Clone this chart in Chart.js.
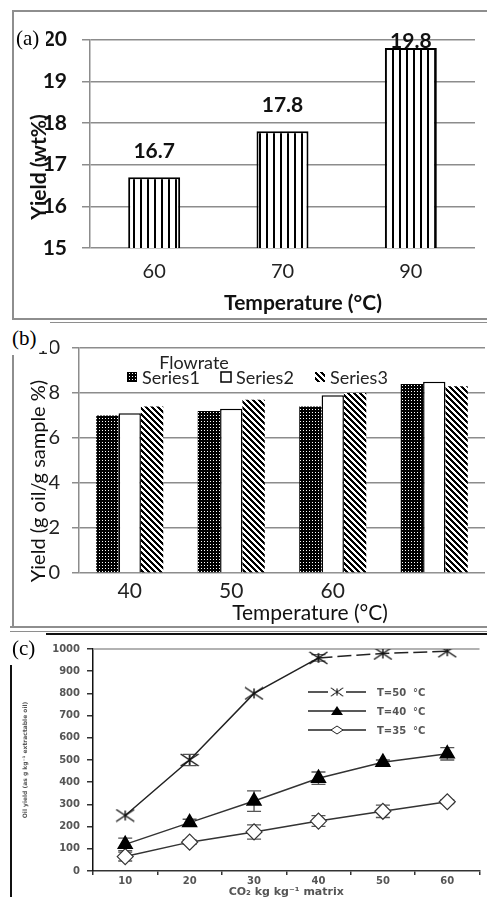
<!DOCTYPE html>
<html lang="en">
<head>
<meta charset="utf-8">
<title>Oil yield vs temperature and CO2</title>
<script src="https://cdn.jsdelivr.net/npm/chart.js@4.4.1/dist/chart.umd.min.js"></script>
<style>
  html, body { margin: 0; padding: 0; background: #fff; }
  #page { position: relative; width: 487px; height: 897px; overflow: hidden; }
  canvas { position: absolute; }
  .ln { position: absolute; background: #8e8e8e; }
  .tag { position: absolute; font-family: "Liberation Serif", serif; font-size: 21px; line-height: 1; background: #fff; padding: 1px 4px 1px 1px; }
  .ttl { position: absolute; font-family: Lato, sans-serif; color: #111; white-space: nowrap; line-height: 1; transform: translate(-50%, -50%); }
  .rot { transform: translate(-50%, -50%) rotate(-90deg); }
</style>
</head>
<body>
<div id="page">
  <canvas id="chartA" width="473" height="306" style="left:14px;top:12px"></canvas>
  <canvas id="chartB" width="473" height="302" style="left:14px;top:324px"></canvas>
  <canvas id="chartC" width="477" height="266" style="left:14px;top:636px"></canvas>

  <!-- panel frames -->
  <div class="ln" style="left:12px;top:10px;width:475px;height:2px"></div>
  <div class="ln" style="left:12px;top:10px;width:2px;height:310px"></div>
  <div class="ln" style="left:12px;top:318px;width:475px;height:2px"></div>
  <div class="ln" style="left:50px;top:322px;width:437px;height:1px"></div>
  <div class="ln" style="left:12px;top:355px;width:2px;height:273px"></div>
  <div class="ln" style="left:10px;top:626px;width:477px;height:2px"></div>
  <div class="ln" style="left:10px;top:631px;width:477px;height:1px"></div>
  <div class="ln" style="left:46px;top:633px;width:441px;height:2px;background:#111"></div>
  <div class="ln" style="left:10px;top:665px;width:2px;height:232px;background:#111"></div>

  <div class="tag" style="left:15px;top:27px;padding-right:7px">(a)</div>
  <div class="tag" style="left:11px;top:326px;padding:2px 13px 2px 1px">(b)</div>
  <div class="tag" style="left:11px;top:637px">(c)</div>

  <div class="ttl rot" style="left:37px;top:167px;font-size:21px;font-weight:bold">Yield (wt%)</div>
  <div class="ttl" style="left:303px;top:301px;font-size:21px;font-weight:bold">Temperature (°C)</div>
  <div class="ttl rot" style="left:37px;top:481px;font-size:20px">Yield (g oil/g sample %)</div>
  <div class="ttl" style="left:310px;top:611px;font-size:21px">Temperature (°C)</div>
</div>
<script>
  // (a) extraction temperature
  const tempA = ['60', '70', '90'];
  const yieldA = [16.7, 17.8, 19.8];

  // (b) flowrate series
  const tempB = ['40', '50', '60', ''];
  const flowNames = ['Series1', 'Series2', 'Series3'];
  const series1 = [7.0, 7.2, 7.4, 8.4];
  const series2 = [7.1, 7.3, 7.9, 8.5];
  const series3 = [7.4, 7.7, 8.0, 8.3];

  // (c) CO2 consumption
  const co2 = ['10', '20', '30', '40', '50', '60'];
  const tempNamesC = ['T=50  °C', 'T=40  °C', 'T=35  °C'];
  const oil50 = [250, 500, 800, 960, 980, 990];
  const oil40 = [120, 218, 315, 418, 490, 528];
  const oil35 = [65, 130, 176, 225, 269, 312];
  const err50 = [0, 25, 0, 15, 0, 0];
  const err40 = [28, 15, 46, 28, 10, 28];
  const err35 = [20, 10, 32, 24, 28, 8];

  function makePattern(w, h, ink) {
    var c = document.createElement('canvas');
    c.width = w; c.height = h;
    var g = c.getContext('2d');
    g.fillStyle = '#fff';
    g.fillRect(0, 0, w, h);
    g.fillStyle = '#000';
    for (var y = 0; y < h; y++) {
      for (var x = 0; x < w; x++) {
        if (ink(x, y)) g.fillRect(x, y, 1, 1);
      }
    }
    return g.createPattern(c, 'repeat');
  }

  var vStripes = makePattern(7, 1, function (x) { return x < 2; });
  var dots = makePattern(3, 3, function (x, y) { return !(x === 1 && y === 1); });
  var diag = makePattern(6, 6, function (x, y) { return ((x - y) % 6 + 6) % 6 < 3; });

  function makeStar() {
    var c = document.createElement('canvas');
    c.width = 20; c.height = 14;
    var g = c.getContext('2d');
    g.strokeStyle = '#111';
    g.lineWidth = 1.4;
    g.beginPath();
    g.moveTo(1, 1); g.lineTo(19, 13);
    g.moveTo(1, 13); g.lineTo(19, 1);
    g.moveTo(10, 2); g.lineTo(10, 12);
    g.stroke();
    return c;
  }
  var starImg = makeStar();

  var gridGray = '#8c8c8c';

  // ---------- (a) ----------
  var valueLabels = {
    id: 'valueLabels',
    afterDatasetsDraw: function (chart) {
      var ctx = chart.ctx, area = chart.chartArea;
      ctx.save();
      ctx.font = 'bold 21px Lato';
      ctx.fillStyle = '#111';
      ctx.textAlign = 'center';
      ctx.textBaseline = 'middle';
      chart.getDatasetMeta(0).data.forEach(function (bar, i) {
        var y = Math.max(bar.y - 26, area.top + 2);
        ctx.fillText(yieldA[i].toFixed(1), bar.x, y);
      });
      ctx.restore();
    }
  };

  new Chart(document.getElementById('chartA'), {
    type: 'bar',
    data: {
      labels: tempA,
      datasets: [{
        data: yieldA,
        backgroundColor: vStripes,
        borderColor: '#000',
        borderWidth: 2,
        borderSkipped: false,
        categoryPercentage: 0.405,
        barPercentage: 1
      }]
    },
    options: {
      responsive: false,
      animation: false,
      layout: { padding: { top: 18, right: 12, left: 0, bottom: 0 } },
      plugins: { legend: { display: false }, tooltip: { enabled: false } },
      scales: {
        x: {
          grid: { display: false, drawTicks: false },
          border: { display: false },
          ticks: { padding: 12, color: '#222', font: { family: 'Lato', size: 20 } },
          afterFit: function (s) { s.height = 70; }
        },
        y: {
          min: 15, max: 20,
          ticks: { stepSize: 1, padding: 15, color: '#111', font: { family: 'Lato', size: 21, weight: 'bold' } },
          grid: { color: gridGray, lineWidth: 1.5, tickLength: 8 },
          border: { color: gridGray, width: 1.5 },
          afterFit: function (s) { s.width = 76; }
        }
      }
    },
    plugins: [valueLabels]
  });

  // ---------- (b) ----------
  var legendB = {
    id: 'legendB',
    afterDraw: function (chart) {
      var ctx = chart.ctx, area = chart.chartArea;
      ctx.save();
      ctx.fillStyle = '#222';
      ctx.font = '18px Lato';
      ctx.textBaseline = 'middle';
      ctx.textAlign = 'center';
      ctx.fillText('Flowrate', area.left + 115, area.top + 15);
      ctx.textAlign = 'left';
      chart.data.datasets.forEach(function (ds, i) {
        var x = area.left + 48 + i * 94, y = area.top + 29;
        ctx.fillStyle = ds.backgroundColor;
        ctx.fillRect(x, y - 5, 10, 10);
        if (ds.borderWidth) {
          ctx.strokeStyle = '#000';
          ctx.lineWidth = 1.5;
          ctx.strokeRect(x, y - 5, 10, 10);
        }
        ctx.fillStyle = '#222';
        ctx.fillText(ds.label, x + 15, y + 1);
      });
      ctx.restore();
    }
  };

  new Chart(document.getElementById('chartB'), {
    type: 'bar',
    data: {
      labels: tempB,
      datasets: [
        { label: flowNames[0], data: series1, backgroundColor: dots, borderWidth: 0 },
        { label: flowNames[1], data: series2, backgroundColor: '#fff', borderColor: '#000', borderWidth: 1.5 },
        { label: flowNames[2], data: series3, backgroundColor: diag, borderWidth: 0 }
      ]
    },
    options: {
      responsive: false,
      animation: false,
      categoryPercentage: 0.66,
      barPercentage: 1,
      layout: { padding: { top: 14, right: 2, left: 0, bottom: 0 } },
      plugins: { legend: { display: false }, tooltip: { enabled: false } },
      scales: {
        x: {
          grid: { display: false, drawTicks: false },
          border: { display: false },
          ticks: { padding: 6, color: '#222', font: { family: 'Lato', size: 21 } },
          afterFit: function (s) { s.height = 53; }
        },
        y: {
          min: 0, max: 10,
          ticks: { stepSize: 2, padding: 12, color: '#222', font: { family: 'Lato', size: 20 } },
          grid: { color: gridGray, lineWidth: 1.5, tickLength: 7 },
          border: { color: gridGray, width: 1.5 },
          afterFit: function (s) { s.width = 65; }
        }
      }
    },
    plugins: [legendB]
  });

  // ---------- (c) ----------
  var errorBars = {
    id: 'errorBars',
    beforeDatasetsDraw: function (chart) {
      var ctx = chart.ctx, area = chart.chartArea, y = chart.scales.y;
      ctx.save();
      ctx.strokeStyle = '#999';
      ctx.lineWidth = 1.5;
      ctx.beginPath();
      ctx.moveTo(area.left, area.top);
      ctx.lineTo(area.right, area.top);
      ctx.stroke();
      ctx.strokeStyle = '#555';
      ctx.lineWidth = 1.3;
      chart.data.datasets.forEach(function (ds, i) {
        chart.getDatasetMeta(i).data.forEach(function (pt, j) {
          var e = ds.errors[j];
          if (!e) return;
          var top = y.getPixelForValue(ds.data[j] + e);
          var bot = y.getPixelForValue(ds.data[j] - e);
          ctx.beginPath();
          ctx.moveTo(pt.x, top); ctx.lineTo(pt.x, bot);
          ctx.moveTo(pt.x - 7, top); ctx.lineTo(pt.x + 7, top);
          ctx.moveTo(pt.x - 7, bot); ctx.lineTo(pt.x + 7, bot);
          ctx.stroke();
        });
      });
      ctx.restore();
    }
  };

  var legendC = {
    id: 'legendC',
    afterDraw: function (chart) {
      var ctx = chart.ctx, area = chart.chartArea;
      ctx.save();
      ctx.font = 'bold 10px "DejaVu Sans"';
      ctx.textBaseline = 'middle';
      chart.data.datasets.forEach(function (ds, i) {
        var x0 = area.left + 215, y = area.top + 43 + i * 19, cx = x0 + 29;
        ctx.strokeStyle = '#222';
        ctx.lineWidth = 1.5;
        ctx.beginPath();
        if (i === 0) {
          ctx.moveTo(x0, y); ctx.lineTo(x0 + 20, y);
          ctx.moveTo(x0 + 38, y); ctx.lineTo(x0 + 58, y);
        } else {
          ctx.moveTo(x0, y); ctx.lineTo(x0 + 58, y);
        }
        ctx.stroke();
        if (ds.pointStyle === 'triangle') {
          ctx.fillStyle = '#000';
          ctx.beginPath();
          ctx.moveTo(cx, y - 5); ctx.lineTo(cx + 6, y + 4); ctx.lineTo(cx - 6, y + 4);
          ctx.closePath(); ctx.fill();
        } else if (ds.pointStyle === 'rectRot') {
          ctx.fillStyle = '#fff';
          ctx.lineWidth = 1;
          ctx.beginPath();
          ctx.moveTo(cx, y - 4); ctx.lineTo(cx + 6, y); ctx.lineTo(cx, y + 4); ctx.lineTo(cx - 6, y);
          ctx.closePath(); ctx.fill(); ctx.stroke();
        } else {
          ctx.drawImage(ds.pointStyle, cx - 7, y - 5, 14, 10);
        }
        ctx.fillStyle = '#555';
        ctx.fillText(ds.label, x0 + 69, y + 1);
      });
      ctx.restore();
    }
  };

  new Chart(document.getElementById('chartC'), {
    type: 'line',
    data: {
      labels: co2,
      datasets: [
        {
          label: tempNamesC[0], data: oil50, errors: err50,
          borderColor: '#222', borderWidth: 1.5, tension: 0,
          pointStyle: starImg, pointRadius: 10,
          segment: { borderDash: function (c) { return c.p0DataIndex >= 3 ? [14, 5] : undefined; } }
        },
        {
          label: tempNamesC[1], data: oil40, errors: err40,
          borderColor: '#333', borderWidth: 1.5, tension: 0,
          pointStyle: 'triangle', pointRadius: 8,
          pointBackgroundColor: '#000', pointBorderColor: '#000'
        },
        {
          label: tempNamesC[2], data: oil35, errors: err35,
          borderColor: '#333', borderWidth: 1.5, tension: 0,
          pointStyle: 'rectRot', pointRadius: 8,
          pointBackgroundColor: '#fff', pointBorderColor: '#333', pointBorderWidth: 1.2
        }
      ]
    },
    options: {
      responsive: false,
      animation: false,
      layout: { padding: { top: 6, right: 0, left: 0, bottom: 0 } },
      plugins: { legend: { display: false }, tooltip: { enabled: false } },
      scales: {
        x: {
          offset: true,
          grid: { offset: true, drawOnChartArea: false, tickLength: 4, color: '#333', lineWidth: 1.5 },
          border: { color: '#333', width: 1.5 },
          ticks: { padding: 0, color: '#555', font: { family: 'DejaVu Sans', size: 10, weight: 'bold' } },
          title: {
            display: true, text: 'CO₂ kg kg⁻¹ matrix', color: '#555',
            font: { family: 'DejaVu Sans', size: 11, weight: 'bold' },
            padding: { top: 0, bottom: 3 }
          },
          afterFit: function (s) { s.height = 31; }
        },
        y: {
          min: 0, max: 1000,
          ticks: {
            stepSize: 100, padding: 7, color: '#555',
            font: { family: 'DejaVu Sans', size: 10, weight: 'bold' },
            callback: function (v) { return String(v); }
          },
          grid: { drawOnChartArea: false, tickLength: 6, color: '#333', lineWidth: 1.5 },
          border: { color: '#111', width: 1.5 },
          title: {
            display: true, text: 'Oil yield (as g kg⁻¹ extractable oil)', color: '#555',
            font: { family: 'DejaVu Sans', size: 6, weight: 'bold' },
            padding: { top: 8, bottom: 0 }
          },
          afterFit: function (s) { s.width = 79; }
        }
      }
    },
    plugins: [errorBars, legendC]
  });
</script>
</body>
</html>
